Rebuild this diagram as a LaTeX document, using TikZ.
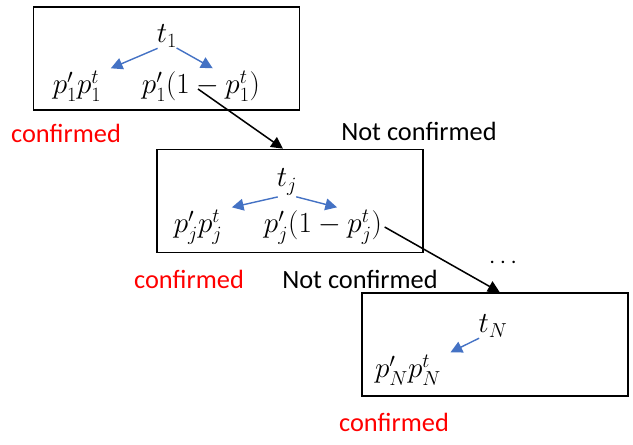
\documentclass[tikz,border=0pt]{standalone}
\usepackage[no-math]{fontspec}
\setmainfont{Carlito}
\usepackage{tikz}
\usetikzlibrary{arrows.meta,positioning}
\definecolor{offblue}{HTML}{4472C4}
\definecolor{confred}{HTML}{FF0000}
\tikzset{
  stagebox/.style={
    rectangle, draw=black, line width=1.4pt,
    minimum width=7.98cm, minimum height=3.09cm,
    inner sep=0pt
  },
  term/.style={
    font=\fontsize{26}{30}\selectfont, inner sep=2pt
  },
  tag/.style={
    font=\fontsize{22.5}{27}\selectfont, text=#1, inner sep=0pt
  },
  tag/.default=black,
  branch/.style={
    -{Triangle[length=10pt,width=10pt]}, line width=1.2pt, color=offblue,
    shorten <=-3pt
  },
  flowarrow/.style={
    -{Triangle[length=10pt,width=10pt]}, line width=1.3pt, color=black
  },
}

\begin{document}
\begin{tikzpicture}[x=0.03cm,y=-0.03cm]
\useasboundingbox (0,0) rectangle (633,445);
% first stage
\node[stagebox] (box1) at (166.5,58.5) {};
\node[term] (t1) at (167,36) {$t_1$};
\node[term] (a1) at (77,86) {$p'_1p^t_1$};
\node[term] (b1) at (201,86) {$p'_1(1-p^t_1)$};
\draw[branch] (t1.south west) -- ([xshift=6pt]a1.north east);
\draw[branch] (t1.south east) -- ([xshift=10pt]b1.north);
\node[tag=confred] (conf1) at (66,133) {confirmed};
\node[tag] (nc1) at (419,131) {Not confirmed};
% stage j
\node[stagebox] (box2) at (290,201) {};
\node[term] (tj) at (287,182) {$t_j$};
\node[term] (a2) at (198,227) {$p'_jp^t_j$};
\node[term] (b2) at (323,227) {$p'_j(1-p^t_j)$};
\draw[branch] (tj.south west) -- ([xshift=6pt]a2.north east);
\draw[branch] (tj.south east) -- ([xshift=12pt]b2.north);
\node[tag=confred] (conf2) at (189,279) {confirmed};
\node[tag] (nc2) at (360,279) {Not confirmed};
\node[tag] (dots) at (503,263) {$\cdots$};
% last stage
\node[stagebox] (box3) at (495,344.5) {};
\node[term] (tN) at (493,326) {$t_N$};
\node[term] (aN) at (408,370) {$p'_Np^t_N$};
\draw[branch] (tN.south west) -- ([xshift=6pt]aN.north east);
\node[tag=confred] (conf3) at (394,422) {confirmed};
% not confirmed paths
\coordinate (s1) at (198,89);
\draw[flowarrow] (s1) -- ([xshift=-6pt]box2.north);
\draw[flowarrow] (b2.east) -- ([xshift=4pt]box3.north);
\end{tikzpicture}
\end{document}
